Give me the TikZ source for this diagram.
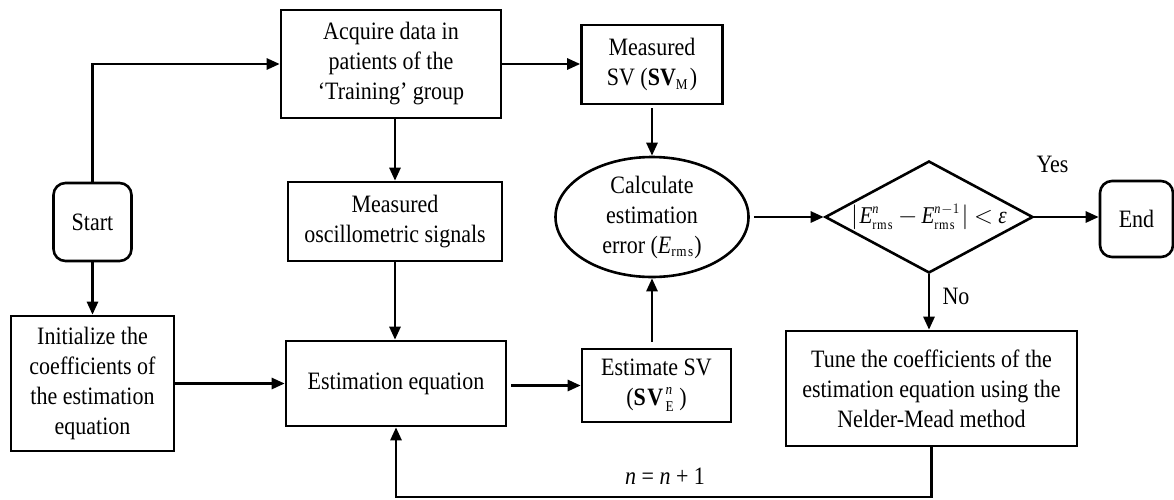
\documentclass[tikz,border=0pt]{standalone}
\usepackage{fontspec}
\setmainfont{Liberation Serif}[FakeStretch=0.88]
\DeclareMathSizes{25}{25}{15}{11}
\DeclareMathSizes{24}{24}{14}{10}
\usetikzlibrary{arrows.meta,shapes.geometric}
\begin{document}
\begin{tikzpicture}[x=1pt,y=-1pt,
  every node/.style={font=\fontsize{25}{30}\selectfont, align=center, inner sep=0pt},
  box/.style={draw, line width=2.6pt, rectangle},
  rbox/.style={box, rounded corners=12pt},
  ellbox/.style={draw, line width=2.6pt, ellipse},
  decbox/.style={draw, line width=2.6pt, diamond, aspect=1.86, inner xsep=0pt, inner ysep=-10pt},
  arr/.style={line width=2.6pt, -{Triangle[length=13pt,width=11pt]}},
  ln/.style={line width=2.6pt}]
\useasboundingbox[fill=white] (0,0) rectangle (1174,499);

\node[rbox, minimum width=78pt, minimum height=78pt] (start) at (92.5,222) {Start};
\node[box, minimum width=163pt, minimum height=135pt] (init) at (92.5,383.5) {Initialize the\\coefficients of\\the estimation\\equation};
\node[box, minimum width=220pt, minimum height=108pt] (acq) at (391,64) {Acquire data in\\patients of the\\‘Training’ group};
\node[box, minimum width=214pt, minimum height=79pt] (osc) at (395,221.5) {Measured\\oscillometric signals};
\node[box, minimum width=220pt, minimum height=85pt] (esteq) at (396,383.5) {Estimation equation};
\node[box, minimum width=141pt, minimum height=79pt] (msv) at (652,64.5) {Measured\\SV (\textbf{SV}$_{\mathrm{M}}$)};
\node[ellbox, minimum width=193pt, minimum height=120pt] (ell) at (652,217) {Calculate\\estimation\\error ($\textit{E}_{\mathrm{rms}}$)};
\node[box, minimum width=149pt, minimum height=73pt] (esv) at (656.5,385.5) {Estimate SV\\($\mathbf{SV}^{\mathit{n}}_{\mathrm{E}}$\,)};
\node[decbox, minimum width=208pt, minimum height=112pt, font=\fontsize{24}{28}\selectfont] (dia) at (929,217) {\medmuskip=3mu\thickmuskip=4mu$\left|\mkern1mu\textit{E}^{\mathit{n}}_{\mathrm{rms}}-\textit{E}^{\mathit{n}-1}_{\mathrm{rms}}\mkern1mu\right| < \textit{ε}$};
\node[rbox, minimum width=73pt, minimum height=76pt] (endn) at (1136.5,219) {End};
\node[box, minimum width=291pt, minimum height=115pt] (tune) at (931.5,388.5) {Tune the coefficients of the\\estimation equation using the\\Nelder-Mead method};

\node (yes) at (1052.5,164) {Yes};
\node (no) at (956,296) {No};
\node (inc) at (665,476) {\textit{n} = \textit{n} + 1};

\coordinate (loop) at (931.5,497);

\draw[arr] (start.north) |- (acq.west);
\draw[arr] (acq.east) -- (acq.east -| msv.west);
\draw[arr, shorten <=3pt] (msv.south) -- (ell.north);
\draw[arr] (acq.south -| osc.north) -- (osc.north);
\draw[arr] (osc.south) -- (osc.south |- esteq.north);
\draw[arr] (start.south) -- (init.north);
\draw[arr] (init.east) -- (esteq.west);
\draw[arr, shorten <=4pt] (esv.west -| esteq.east) -- (esv.west);
\draw[arr, shorten <=6pt] (esv.north -| ell.south) -- (ell.south);
\draw[arr, shorten <=4pt] (ell.east) -- (dia.west);
\draw[arr] (dia.east) -- (dia.east -| endn.west);
\draw[arr] (dia.south) -- (dia.south |- tune.north);
\draw[arr] (tune.south) -- (loop) -| (esteq.south);
\end{tikzpicture}
\end{document}
